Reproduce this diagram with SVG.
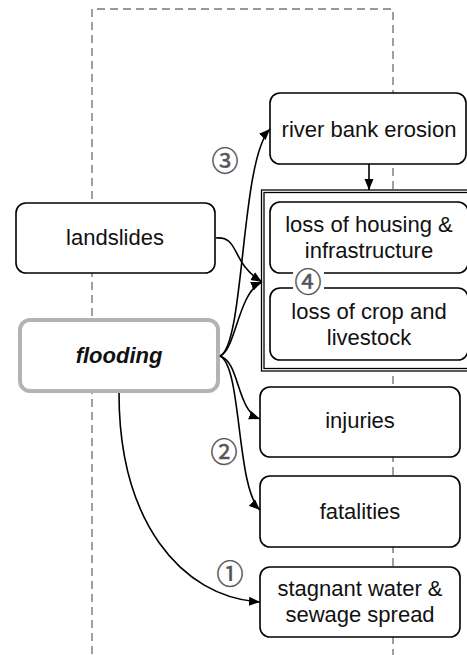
<svg xmlns="http://www.w3.org/2000/svg" width="467" height="655" viewBox="0 0 467 655">
  <defs>
    <marker id="arrow" markerUnits="userSpaceOnUse" markerWidth="12" markerHeight="10" refX="11" refY="5" orient="auto">
      <path d="M0,0.5 L11,5 L0,9.5 z" fill="#000"/>
    </marker>
  </defs>
  <style>
    .box { fill: #fff; stroke: #000; stroke-width: 1.6; }
    .lbl { font-family: "Liberation Sans", Arial, sans-serif; font-size: 22px; fill: #111; text-anchor: middle; }
    .num { font-family: "Noto Sans CJK JP", "DejaVu Sans", sans-serif; font-size: 27px; fill: #555; stroke: #555; stroke-width: 0.5; text-anchor: middle; }
    .edge { fill: none; stroke: #000; stroke-width: 1.6; marker-end: url(#arrow); }
  </style>

  <rect width="467" height="655" fill="#fff"/>

  <!-- dashed frame -->
  <path d="M92,654 V9 H393 V655" fill="none" stroke="#777" stroke-width="1.4" stroke-dasharray="8,5"/>

  <!-- double-lined container for the loss nodes -->
  <g id="loss-group">
    <rect x="261.5" y="190" width="220" height="181" fill="#fff" stroke="#000" stroke-width="1.3"/>
    <rect x="264" y="192.5" width="220" height="176" fill="none" stroke="#000" stroke-width="1.3"/>
  </g>

  <g id="river-bank-erosion">
    <rect class="box" x="270" y="93" width="196" height="71" rx="10"/>
    <text class="lbl" x="369" y="137">river bank erosion</text>
  </g>

  <g id="loss-housing">
    <rect class="box" x="270" y="202" width="198" height="71" rx="10"/>
    <text class="lbl" x="369" y="232">loss of housing &amp;</text>
    <text class="lbl" x="369" y="258">infrastructure</text>
  </g>

  <g id="loss-crop">
    <rect class="box" x="270" y="288" width="198" height="72" rx="10"/>
    <text class="lbl" x="369" y="319">loss of crop and</text>
    <text class="lbl" x="369" y="345">livestock</text>
  </g>

  <g id="landslides">
    <rect class="box" x="16" y="203" width="199" height="70" rx="10"/>
    <text class="lbl" x="115" y="245">landslides</text>
  </g>

  <g id="flooding">
    <rect x="20" y="320" width="198" height="71" rx="10" fill="#fff" stroke="#b3b3b3" stroke-width="4"/>
    <text class="lbl" x="119" y="363" font-weight="bold" font-style="italic" font-size="24">flooding</text>
  </g>

  <g id="injuries">
    <rect class="box" x="260" y="387" width="200" height="70" rx="10"/>
    <text class="lbl" x="360" y="428">injuries</text>
  </g>

  <g id="fatalities">
    <rect class="box" x="260" y="476" width="200" height="71" rx="10"/>
    <text class="lbl" x="360" y="519">fatalities</text>
  </g>

  <g id="stagnant-water">
    <rect class="box" x="260" y="567" width="200" height="70" rx="10"/>
    <text class="lbl" x="360" y="596">stagnant water &amp;</text>
    <text class="lbl" x="360" y="622">sewage spread</text>
  </g>

  <!-- connectors -->
  <g id="connectors">
    <path class="edge" d="M369,164 V190"/>
    <path class="edge" d="M220,356 C245,345 240,160 270,129"/>
    <path class="edge" d="M216,238 C240,236 230,262 262,282"/>
    <path class="edge" d="M220,356 C236,350 238,292 262,282"/>
    <path class="edge" d="M220,356 C240,362 236,410 260,419"/>
    <path class="edge" d="M220,356 C242,366 236,488 260,510"/>
    <path class="edge" d="M119,393 C119,520 180,597 260,602"/>
  </g>

  <!-- step numbers -->
  <g id="labels">
    <text class="num" x="225" y="171">③</text>
    <text class="num" x="224" y="462">②</text>
    <text class="num" x="230" y="584">①</text>
    <rect x="293" y="270" width="31" height="24" fill="#fff"/>
    <text class="num" x="308" y="292" font-size="25" fill="#999" stroke="#999">④</text>
  </g>
</svg>
